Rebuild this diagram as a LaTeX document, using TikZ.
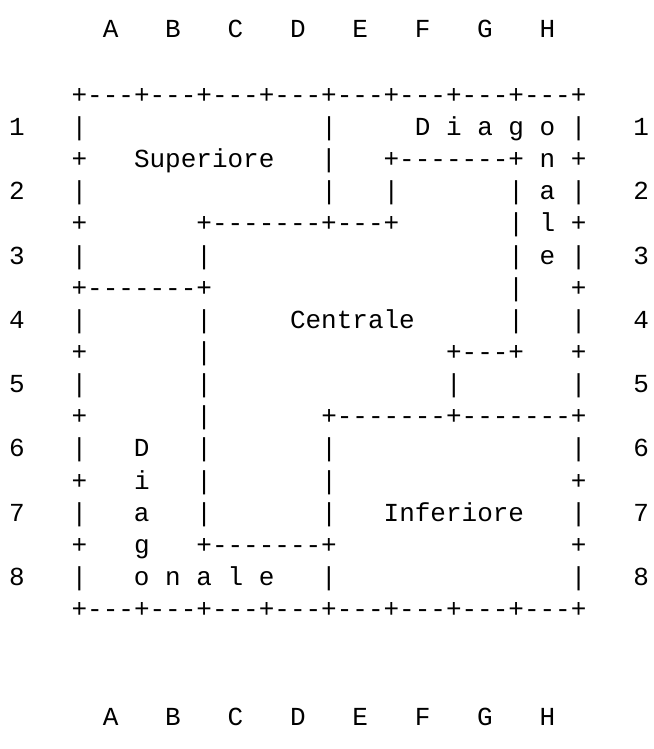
\documentclass[tikz,border=0pt]{standalone}
\usepackage{fontspec}
\setmonofont{Liberation Mono}
% blank run of #1 character cells in the current monospaced font
\newcommand\cellgap[1]{\kern#1\fontcharwd\font`0\relax}
\begin{document}
\begin{tikzpicture}[x=0.75pt,y=-0.75pt,
  gridline/.style={anchor=base west, inner sep=0pt, outer sep=0pt,
    font=\ttfamily\fontsize{19.5}{19.5}\selectfont, text=black}]
\useasboundingbox (0,0) rectangle (653,749);
% left edge of column 0, baseline of line 0, line pitch
\def\xo{9.2}
\def\yo{39.1}
\def\dy{32.14}
\node[gridline] (l0)  at (\xo,37.5)       {\cellgap{6}A\cellgap{3}B\cellgap{3}C\cellgap{3}D\cellgap{3}E\cellgap{3}F\cellgap{3}G\cellgap{3}H};
\node[gridline] (l2)  at (\xo,\yo+2*\dy)  {\cellgap{4}+---+---+---+---+---+---+---+---+};
\node[gridline] (l3)  at (\xo,\yo+3*\dy)  {1\cellgap{3}|\cellgap{15}|\cellgap{5}D i a g o |\cellgap{3}1};
\node[gridline] (l4)  at (\xo,\yo+4*\dy)  {\cellgap{4}+\cellgap{3}Superiore\cellgap{3}|\cellgap{3}+-------+ n +};
\node[gridline] (l5)  at (\xo,\yo+5*\dy)  {2\cellgap{3}|\cellgap{15}|\cellgap{3}|\cellgap{7}| a |\cellgap{3}2};
\node[gridline] (l6)  at (\xo,\yo+6*\dy)  {\cellgap{4}+\cellgap{7}+-------+---+\cellgap{7}| l +};
\node[gridline] (l7)  at (\xo,\yo+7*\dy)  {3\cellgap{3}|\cellgap{7}|\cellgap{19}| e |\cellgap{3}3};
\node[gridline] (l8)  at (\xo,\yo+8*\dy)  {\cellgap{4}+-------+\cellgap{19}|\cellgap{3}+};
\node[gridline] (l9)  at (\xo,\yo+9*\dy)  {4\cellgap{3}|\cellgap{7}|\cellgap{5}Centrale\cellgap{6}|\cellgap{3}|\cellgap{3}4};
\node[gridline] (l10) at (\xo,\yo+10*\dy) {\cellgap{4}+\cellgap{7}|\cellgap{15}+---+\cellgap{3}+};
\node[gridline] (l11) at (\xo,\yo+11*\dy) {5\cellgap{3}|\cellgap{7}|\cellgap{15}|\cellgap{7}|\cellgap{3}5};
\node[gridline] (l12) at (\xo,\yo+12*\dy) {\cellgap{4}+\cellgap{7}|\cellgap{7}+-------+-------+};
\node[gridline] (l13) at (\xo,\yo+13*\dy) {6\cellgap{3}|\cellgap{3}D\cellgap{3}|\cellgap{7}|\cellgap{15}|\cellgap{3}6};
\node[gridline] (l14) at (\xo,\yo+14*\dy) {\cellgap{4}+\cellgap{3}i\cellgap{3}|\cellgap{7}|\cellgap{15}+};
\node[gridline] (l15) at (\xo,\yo+15*\dy) {7\cellgap{3}|\cellgap{3}a\cellgap{3}|\cellgap{7}|\cellgap{3}Inferiore\cellgap{3}|\cellgap{3}7};
\node[gridline] (l16) at (\xo,\yo+16*\dy) {\cellgap{4}+\cellgap{3}g\cellgap{3}+-------+\cellgap{15}+};
\node[gridline] (l17) at (\xo,\yo+17*\dy) {8\cellgap{3}|\cellgap{3}o n a l e\cellgap{3}|\cellgap{15}|\cellgap{3}8};
\node[gridline] (l18) at (\xo,\yo+18*\dy) {\cellgap{4}+---+---+---+---+---+---+---+---+};
\node[gridline] (l21) at (\xo,725.5)      {\cellgap{6}A\cellgap{3}B\cellgap{3}C\cellgap{3}D\cellgap{3}E\cellgap{3}F\cellgap{3}G\cellgap{3}H};
\end{tikzpicture}
\end{document}
